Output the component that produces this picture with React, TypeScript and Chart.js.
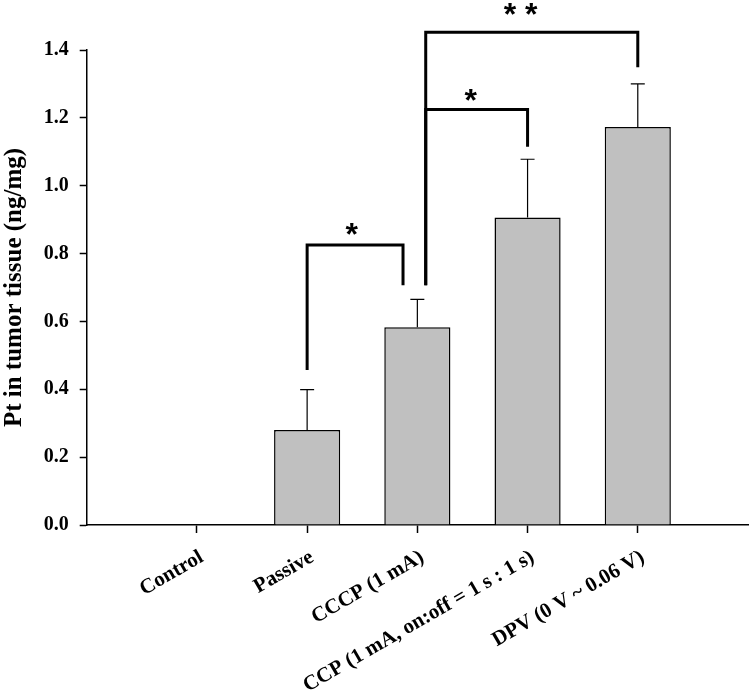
import React, { useEffect, useRef } from "react";
import { Chart, registerables } from "chart.js";

Chart.register(...registerables);

const categories = [
  "Control",
  "Passive",
  "CCCP (1 mA)",
  "CCP (1 mA, on:off = 1 s : 1 s)",
  "DPV (0 V ~ 0.06 V)",
];
const means = [0, 0.28, 0.583, 0.906, 1.173];
const errors = [0, 0.119, 0.082, 0.172, 0.127];
const yTicks = [0, 0.2, 0.4, 0.6, 0.8, 1.0, 1.2, 1.4];

// significance brackets in data units
const bracketX1 = [2, 3.076, 3.076];
const bracketX2 = [2.87, 4, 5];
const bracketTop = [0.825, 1.225, 1.452];
const bracketLeftEnd = [0.457, 0.707, 0.707];
const bracketRightEnd = [0.707, 1.115, 1.349];
const bracketLabels = ["*", "*", "* *"];
const bracketLabelX = [2.405, 3.485, 3.937];
const bracketLabelY = [0.872, 1.267, 1.521];

const errorBarPlugin = {
  id: "errorBars",
  afterDatasetsDraw(chart: any) {
    const { ctx } = chart;
    const xs = chart.scales.x;
    const ys = chart.scales.y;
    ctx.save();
    ctx.strokeStyle = "#000";
    ctx.lineWidth = 1.2;
    means.forEach((m, i) => {
      const e = errors[i];
      if (!e) return;
      const x = xs.getPixelForValue(i + 1);
      const y0 = ys.getPixelForValue(m);
      const y1 = ys.getPixelForValue(m + e);
      ctx.beginPath();
      ctx.moveTo(x, y0);
      ctx.lineTo(x, y1);
      ctx.moveTo(x - 7, y1);
      ctx.lineTo(x + 7, y1);
      ctx.stroke();
    });
    ctx.restore();
  },
};

const bracketPlugin = {
  id: "brackets",
  afterDraw(chart: any) {
    const { ctx } = chart;
    const xs = chart.scales.x;
    const ys = chart.scales.y;
    ctx.save();
    ctx.strokeStyle = "#000";
    ctx.lineWidth = 3;
    ctx.lineCap = "butt";
    ctx.lineJoin = "miter";
    bracketX1.forEach((bx1, i) => {
      const x1 = xs.getPixelForValue(bx1);
      const x2 = xs.getPixelForValue(bracketX2[i]);
      const yt = ys.getPixelForValue(bracketTop[i]);
      const yl = ys.getPixelForValue(bracketLeftEnd[i]);
      const yr = ys.getPixelForValue(bracketRightEnd[i]);
      ctx.beginPath();
      ctx.moveTo(x1, yl);
      ctx.lineTo(x1, yt);
      ctx.lineTo(x2, yt);
      ctx.lineTo(x2, yr);
      ctx.stroke();
    });
    ctx.fillStyle = "#000";
    ctx.font = "bold 32px 'Liberation Sans', Arial, sans-serif";
    ctx.textAlign = "center";
    ctx.textBaseline = "alphabetic";
    bracketLabels.forEach((lab, i) => {
      const x = xs.getPixelForValue(bracketLabelX[i]);
      const y = ys.getPixelForValue(bracketLabelY[i]);
      const m = ctx.measureText(lab);
      const asc = m.actualBoundingBoxAscent;
      const desc = m.actualBoundingBoxDescent;
      ctx.fillText(lab, x, y + (asc - desc) / 2);
    });
    ctx.restore();
  },
};

export default function App() {
  const ref = useRef<HTMLCanvasElement | null>(null);
  useEffect(() => {
    if (!ref.current) return;
    const serif = "'Liberation Serif', 'Times New Roman', serif";
    const chart = new Chart(ref.current, {
      type: "bar",
      data: {
        datasets: [
          {
            data: means.map((v, i) => ({ x: i + 1, y: v })),
            backgroundColor: "#c0c0c0",
            borderColor: "#000",
            borderWidth: 1.5,
            categoryPercentage: 1,
            barPercentage: 0.6,
          },
        ],
      },
      options: {
        animation: false,
        responsive: true,
        maintainAspectRatio: false,
        layout: { padding: { top: 50, right: 1, left: 0, bottom: 0 } },
        plugins: { legend: { display: false }, tooltip: { enabled: false } },
        scales: {
          x: {
            type: "linear",
            offset: false,
            min: 0,
            max: 6,
            afterFit(scale: any) {
              scale.height = 166;
              scale.paddingLeft = 0;
              scale.paddingRight = 0;
            },
            afterBuildTicks(scale: any) {
              scale.ticks = [0, 1, 2, 3, 4, 5, 6].map((v) => ({ value: v }));
            },
            grid: {
              display: true,
              drawOnChartArea: false,
              drawTicks: true,
              offset: false,
              tickLength: 8,
              tickWidth: 1.5,
              tickColor: (c: any) =>
                c.tick && c.tick.value >= 1 && c.tick.value <= 5 ? "#000" : "rgba(0,0,0,0)",
            },
            border: { display: true, color: "#000", width: 1.5 },
            ticks: {
              autoSkip: false,
              minRotation: 30,
              maxRotation: 30,
              padding: 12,
              labelOffset: 5,
              color: "#000",
              font: { family: serif, size: 21, weight: "bold" },
              callback: (v: any) => categories[Number(v) - 1] ?? "",
            },
          },
          y: {
            min: 0,
            max: 1.4,
            afterFit(scale: any) {
              scale.width = 86.7;
            },
            afterBuildTicks(scale: any) {
              scale.ticks = yTicks.map((v) => ({ value: v }));
            },
            grid: {
              display: true,
              drawOnChartArea: false,
              drawTicks: true,
              tickLength: 7,
              tickWidth: 1.5,
              tickColor: "#000",
            },
            border: { display: true, color: "#000", width: 1.5 },
            ticks: {
              padding: 11,
              color: "#000",
              font: { family: serif, size: 20, weight: "bold" },
              callback: (v: any) => Number(v).toFixed(1),
            },
            title: {
              display: true,
              text: "Pt in tumor tissue (ng/mg)",
              color: "#000",
              font: { family: serif, size: 25, weight: "bold" },
              padding: { top: 0, bottom: 0 },
            },
          },
        },
      },
      plugins: [errorBarPlugin, bracketPlugin],
    } as any);
    return () => chart.destroy();
  }, []);
  return (
    <div style={{ position: "absolute", left: 0, top: 0, width: 749, height: 691 }}>
      <canvas ref={ref} />
    </div>
  );
}
